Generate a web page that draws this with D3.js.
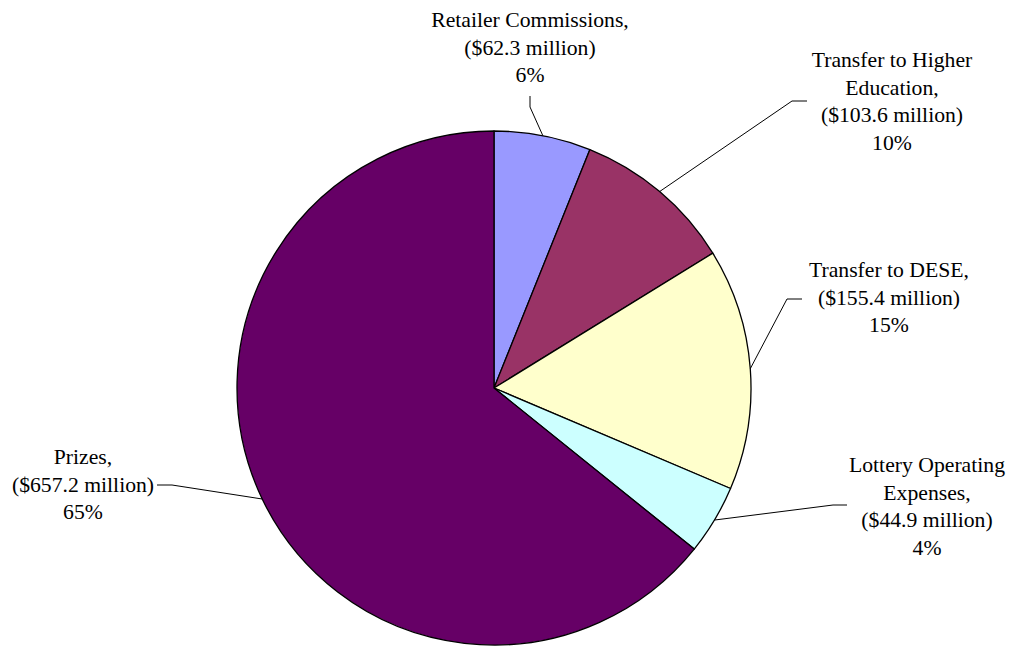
<!DOCTYPE html>
<html lang="en">
<head>
	<meta charset="utf-8">
	<title>Lottery Proceeds</title>
	<script src="https://cdnjs.cloudflare.com/ajax/libs/d3/7.8.5/d3.min.js"></script>
	<style>
	body { margin: 0; background: #fff; }
	</style>
</head>
<body>
<svg id="chart" width="1012" height="647"></svg>
<script>
// data, clockwise from 12 o'clock
var categories = ['Retailer Commissions', 'Transfer to Higher Education', 'Transfer to DESE', 'Lottery Operating Expenses', 'Prizes'];
var amounts = [62.3, 103.6, 155.4, 44.9, 657.2];
var colors = ['#9999FF', '#993366', '#FFFFCC', '#CCFFFF', '#660066'];

// label layout: wrapped lines, text centre, first baseline, leader elbow + end
var labelLines = [
	['Retailer Commissions,', '($62.3 million)', '6%'],
	['Transfer to Higher', 'Education,', '($103.6 million)', '10%'],
	['Transfer to DESE,', '($155.4 million)', '15%'],
	['Lottery Operating', 'Expenses,', '($44.9 million)', '4%'],
	['Prizes,', '($657.2 million)', '65%']
];
var labelPos = [
	{x: 530, y: 27, elbow: [530, 107], end: [530, 96]},
	{x: 892, y: 67, elbow: [792, 101], end: [807, 101]},
	{x: 889, y: 277, elbow: [787, 299], end: [802, 299]},
	{x: 927, y: 472, elbow: [833, 505], end: [847, 505]},
	{x: 83, y: 464, elbow: [172, 485], end: [157, 485]}
];

var cx = 494, cy = 388, r = 257;
var svg = d3.select('#chart');
var g = svg.append('g').attr('transform', 'translate(' + cx + ',' + cy + ')');

var pie = d3.pie().sort(null).value(function(d) { return d; });
var arcs = pie(amounts);
var arc = d3.arc().innerRadius(0).outerRadius(r);

g.selectAll('path.slice')
	.data(arcs)
	.enter().append('path')
	.attr('class', 'slice')
	.attr('d', arc)
	.attr('fill', function(d, i) { return colors[i]; })
	.attr('stroke', '#000')
	.attr('stroke-width', 1.3)
	.attr('stroke-linejoin', 'round');

// leader lines from slice edge at mid angle
arcs.forEach(function(d, i) {
	var a = (d.startAngle + d.endAngle) / 2;
	var p = [cx + r * Math.sin(a), cy - r * Math.cos(a)];
	var lp = labelPos[i];
	svg.append('polyline')
		.attr('points', [p, lp.elbow, lp.end].map(function(q) { return q.join(','); }).join(' '))
		.attr('fill', 'none')
		.attr('stroke', '#000')
		.attr('stroke-width', 1);
});

// labels
labelLines.forEach(function(lines, i) {
	var lp = labelPos[i];
	var t = svg.append('text')
		.style('font-family', '"Liberation Serif", "Times New Roman", serif')
		.style('font-size', '21.7px')
		.attr('fill', '#000')
		.attr('text-anchor', 'middle')
		.attr('x', lp.x)
		.attr('y', lp.y);
	lines.forEach(function(s, j) {
		t.append('tspan')
			.attr('x', lp.x)
			.attr('dy', j === 0 ? 0 : 27.6)
			.text(s);
	});
});
</script>
</body>
</html>
